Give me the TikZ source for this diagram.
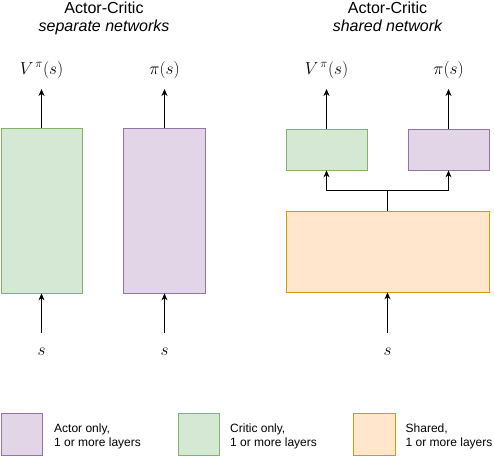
\documentclass[tikz,border=0pt]{standalone}
\usepackage[no-math]{fontspec}
\setmainfont{Liberation Sans}
\usetikzlibrary{arrows.meta}
\definecolor{criticfill}{HTML}{D5E8D4}
\definecolor{criticline}{HTML}{82B366}
\definecolor{actorfill}{HTML}{E1D5E7}
\definecolor{actorline}{HTML}{9673A6}
\definecolor{sharedfill}{HTML}{FFE6CC}
\definecolor{sharedline}{HTML}{D79B00}
\begin{document}
\begin{tikzpicture}[x=1pt,y=-1pt,
  layer/.style={draw,rectangle,inner sep=0pt,line width=0.8pt},
  critic/.style={layer,draw=criticline,fill=criticfill},
  actor/.style={layer,draw=actorline,fill=actorfill},
  shared/.style={layer,draw=sharedline,fill=sharedfill},
  title/.style={anchor=base,font=\fontsize{16}{19}\selectfont},
  mathlbl/.style={anchor=base,inner sep=0pt,font=\fontsize{18}{20}\selectfont},
  legend/.style={anchor=west,align=left,inner sep=0pt,font=\fontsize{12}{14}\selectfont},
  arr/.style={-{Stealth[length=7pt,width=6pt]},line width=0.8pt}]
\useasboundingbox (0,0) rectangle (494,456);
\node[title] (tsep) at (104,13) {Actor-Critic};
\node[title] (tsepb) at (104,31) {\itshape separate networks};
\node[title] (tsh) at (387.5,13) {Actor-Critic};
\node[title] (tshb) at (387.5,31) {\itshape shared network};
\node[critic,minimum width=81pt,minimum height=165pt] (critA) at (41.5,210.5) {};
\node[actor,minimum width=82pt,minimum height=165pt] (actA) at (164.5,210.5) {};
\node[mathlbl] (vA) at (41.5,74) {$V^{\,\pi}(s)$};
\node[mathlbl] (piA) at (164.5,74) {$\pi(s)$};
\node[mathlbl] (sA) at (41.5,355) {$s$};
\node[mathlbl] (sB) at (164.5,355) {$s$};
\draw[arr,shorten >=10.5pt] (critA) -- (vA);
\draw[arr,shorten >=10.5pt] (actA) -- (piA);
\draw[arr,shorten <=14.5pt] (sA) -- (critA);
\draw[arr,shorten <=14.5pt] (sB) -- (actA);
\node[critic,minimum width=81pt,minimum height=41pt] (critB) at (326.5,149.5) {};
\node[actor,minimum width=81pt,minimum height=41pt] (actB) at (448.5,149.5) {};
\node[shared,minimum width=203pt,minimum height=81pt] (shB) at (387.5,251.5) {};
\node[mathlbl] (vB) at (326.5,74) {$V^{\,\pi}(s)$};
\node[mathlbl] (piB) at (448.5,74) {$\pi(s)$};
\node[mathlbl] (sC) at (387.5,355) {$s$};
\coordinate (fork) at (387.5,190);
\draw[arr,shorten >=10.5pt] (critB) -- (vB);
\draw[arr,shorten >=10.5pt] (actB) -- (piB);
\draw[arr,shorten <=14.5pt] (sC) -- (shB);
\draw[line width=0.8pt] (shB) -- (fork);
\draw[arr] (fork) -| (critB);
\draw[arr] (fork) -| (actB);
\node[actor,minimum width=41pt,minimum height=42pt] (keyA) at (21.5,434) {};
\node[critic,minimum width=41pt,minimum height=42pt] (keyC) at (198.5,434) {};
\node[shared,minimum width=42pt,minimum height=42pt] (keyS) at (374,434) {};
\node[legend] (txtA) at (54,436) {Actor only,\\1 or more layers};
\node[legend] (txtC) at (230,436) {Critic only,\\1 or more layers};
\node[legend] (txtS) at (405.5,436) {Shared,\\1 or more layers};
\end{tikzpicture}
\end{document}
